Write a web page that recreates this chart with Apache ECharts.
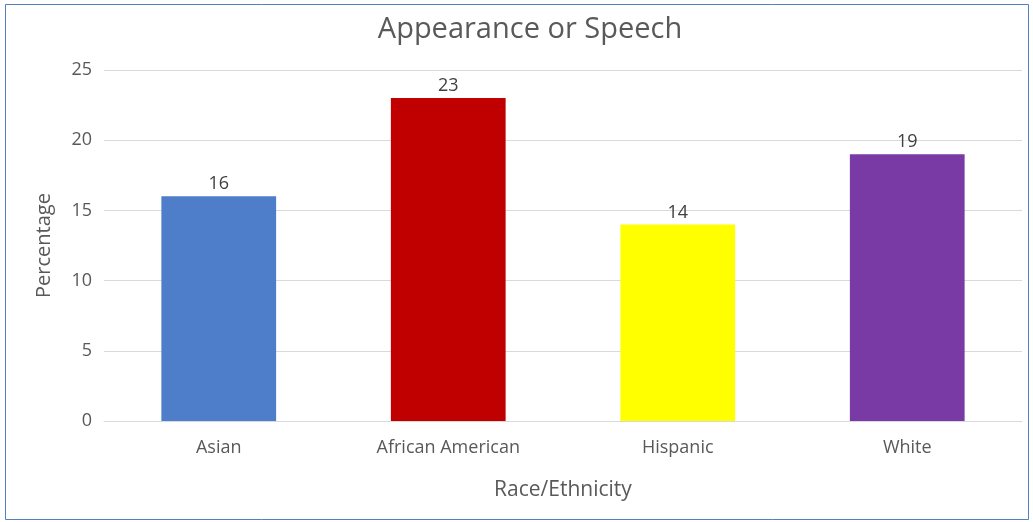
<!DOCTYPE html>
<html>
<head>
<meta charset="utf-8">
<script src="https://cdn.jsdelivr.net/npm/echarts@6/dist/echarts.min.js"></script>
<style>
html,body{margin:0;padding:0;background:#fff;}
#c{width:1033px;height:522px;}
</style>
</head>
<body>
<div id="c"></div>
<script>
const categories = ["Asian", "African American", "Hispanic", "White"];
const values = [16, 23, 14, 19];
const barColors = ["#4e7dc9", "#c00000", "#ffff00", "#7a3aa6"];
const yTicks = [0, 5, 10, 15, 20, 25];

const chart = echarts.init(document.getElementById('c'));
const font = '"Open Sans", "Noto Sans", sans-serif';
chart.setOption({
  backgroundColor: '#fff',
  animation: false,
  title: {
    text: 'Appearance or Speech',
    left: 525, top: 10, textAlign: 'center',
    textStyle: {color: '#595959', fontSize: 29, fontWeight: 'normal', fontFamily: font}
  },
  graphic: [{
    type: 'rect', shape: {x: 5.5, y: 4.5, width: 1023, height: 515},
    style: {fill: 'none', stroke: '#4f81bd', lineWidth: 1}, silent: true
  }],
  grid: {left: 104, right: 11, top: 70, bottom: 101},
  xAxis: {
    type: 'category', data: categories,
    name: 'Race/Ethnicity', nameLocation: 'middle', nameGap: 59,
    nameTextStyle: {color: '#595959', fontSize: 21, fontFamily: font},
    axisTick: {show: false},
    axisLine: {lineStyle: {color: '#d9d9d9'}},
    axisLabel: {color: '#595959', fontSize: 18, margin: 18, fontFamily: font}
  },
  yAxis: {
    type: 'value', min: yTicks[0], max: yTicks[yTicks.length - 1], interval: 5,
    name: 'Percentage', nameLocation: 'middle', nameGap: 50,
    nameTextStyle: {color: '#595959', fontSize: 20, fontFamily: font},
    axisLine: {show: false}, axisTick: {show: false},
    axisLabel: {color: '#595959', fontSize: 18, margin: 12, fontFamily: font},
    splitLine: {lineStyle: {color: '#d9d9d9', width: 1}}
  },
  series: [{
    type: 'bar', barWidth: '50%',
    data: values.map((v, i) => ({value: v, itemStyle: {color: barColors[i]}})),
    label: {show: true, position: 'top', distance: 3, color: '#404040', fontSize: 18, fontFamily: font}
  }]
});
</script>
</body>
</html>
